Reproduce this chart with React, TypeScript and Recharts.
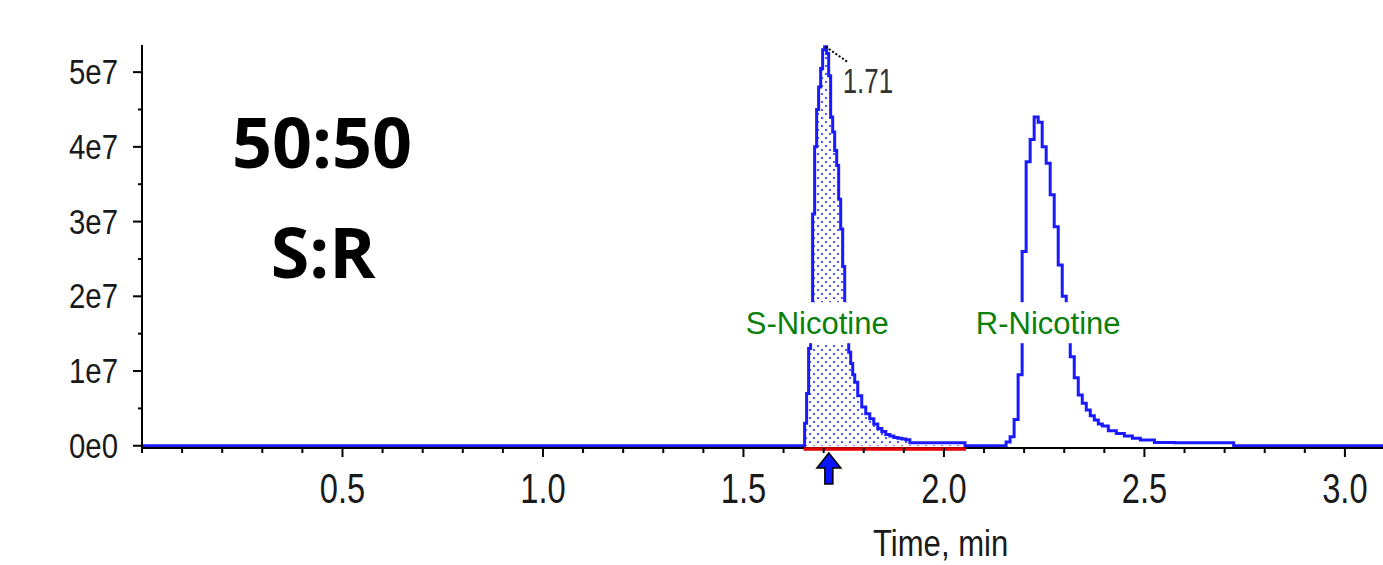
import React from 'react';
import { ComposedChart, Line, Area, XAxis, YAxis, ReferenceLine, ReferenceDot } from 'recharts';

// Retention time (min) and detector signal (x1e7 counts)
const rt = [
  0, 1.645,
  1.65, 1.655, 1.66, 1.665, 1.67, 1.675, 1.68, 1.685, 1.69, 1.695, 1.7, 1.705, 1.71, 1.715, 1.72, 1.725,
  1.73, 1.735, 1.74, 1.745, 1.75, 1.755, 1.76, 1.765, 1.77, 1.775, 1.78, 1.79, 1.8, 1.81, 1.82, 1.83,
  1.84, 1.85, 1.86, 1.87, 1.88, 1.89, 1.9, 1.91, 1.92, 1.95, 2.0, 2.05, 2.055,
  2.15, 2.16, 2.17, 2.18, 2.19, 2.2, 2.21, 2.22, 2.23, 2.24, 2.25, 2.26, 2.27, 2.28, 2.29, 2.3, 2.31,
  2.32, 2.33, 2.34, 2.35, 2.36, 2.37, 2.38, 2.39, 2.4, 2.42, 2.44, 2.46, 2.48, 2.5, 2.55, 2.6, 2.65,
  2.7, 2.72, 2.725, 3.095,
];
const signal = [
  0, 0,
  0, 0.3, 0.7, 1.3, 1.9, 3.1, 4.0, 4.5, 4.8, 5.05, 5.3, 5.34, 5.25, 4.95, 4.4, 4.2,
  3.95, 3.75, 3.3, 2.9, 2.4, 1.9, 1.45, 1.25, 1.1, 0.95, 0.85, 0.67, 0.52, 0.43, 0.36, 0.29,
  0.23, 0.19, 0.15, 0.13, 0.11, 0.1, 0.09, 0.08, 0.04, 0.04, 0.04, 0.04, 0,
  0, 0.05, 0.12, 0.35, 0.95, 2.6, 3.8, 4.1, 4.4, 4.33, 4.0, 3.78, 3.36, 2.93, 2.42, 2.0, 1.48,
  1.19, 0.91, 0.68, 0.57, 0.48, 0.4, 0.345, 0.29, 0.265, 0.2, 0.165, 0.13, 0.1, 0.078, 0.044, 0.04, 0.04,
  0.04, 0.04, 0, 0,
];

// integrated peak (S-Nicotine)
const integrationStart = 1.65;
const integrationEnd = 2.055;
const integrationLevel = -0.045;
const peakApexTime = 1.705;
const peakApexSignal = 5.34;
const peakRTLabel = '1.71';
const markerTime = 1.713;

const peakNames = ['S-Nicotine', 'R-Nicotine'];
const peakLabelTimes = [1.684, 2.26];
const peakLabelSignal = 1.64;

const xTicks = [0, 0.1, 0.2, 0.3, 0.4, 0.5, 0.6, 0.7, 0.8, 0.9, 1.0, 1.1, 1.2, 1.3, 1.4, 1.5, 1.6, 1.7, 1.8, 1.9,
  2.0, 2.1, 2.2, 2.3, 2.4, 2.5, 2.6, 2.7, 2.8, 2.9, 3.0];
const yTicks = [0, 0.5, 1, 1.5, 2, 2.5, 3, 3.5, 4, 4.5, 5];

const xDomain = [0, 3.095];
const yDomain = [-0.03, 5.363];

const data = rt.map((t, i) => ({
  t,
  v: signal[i],
  fill: t >= integrationStart && t <= integrationEnd ? signal[i] : null,
}));

const FONT = '"Liberation Sans", Arial, sans-serif';

const YTick = (props: any) => {
  const { x, y, payload } = props;
  const v = payload.value;
  const major = Math.abs(v - Math.round(v)) < 1e-6;
  return (
    <g>
      <line x1={x - (major ? 9 : 4)} x2={x} y1={y} y2={y} stroke="#000" strokeWidth={2} />
      {major && (
        <text
          transform={`translate(${x - 24},${y + 12}) scale(0.84,1)`}
          textAnchor="end"
          fontSize={35}
          fontFamily={FONT}
          fill="#1a1a1a"
        >
          {v === 0 ? '0e0' : `${v}e7`}
        </text>
      )}
    </g>
  );
};

const XTick = (props: any) => {
  const { x, y, payload } = props;
  const v = payload.value;
  const major = v > 0 && Math.abs(v * 2 - Math.round(v * 2)) < 1e-6;
  return (
    <g>
      <line x1={x} x2={x} y1={y} y2={y + (major ? 9 : 5)} stroke="#000" strokeWidth={2} />
      {major && (
        <text
          transform={`translate(${x},${y + 55}) scale(0.76,1)`}
          textAnchor="middle"
          fontSize={43}
          fontFamily={FONT}
          fill="#1a1a1a"
        >
          {v.toFixed(1)}
        </text>
      )}
    </g>
  );
};

const PeakLabel = (name: string) => (props: any) => {
  const { cx, cy } = props;
  return (
    <g>
      <rect x={cx - 78} y={cy - 21} width={156} height={41} fill="#fff" />
      <text x={cx} y={cy + 11} textAnchor="middle" fontSize={31} fontFamily={FONT} fill="#0a7f0a">
        {name}
      </text>
    </g>
  );
};

const ApexLabel = (props: any) => {
  const { cx, cy } = props;
  return (
    <g>
      <line x1={cx} y1={cy} x2={cx + 23} y2={cy + 16} stroke="#000" strokeWidth={2} strokeDasharray="2 2" />
      <text
        transform={`translate(${cx + 17},${cy + 46}) scale(0.74,1)`}
        fontSize={35}
        fontFamily={FONT}
        fill="#333"
      >
        {peakRTLabel}
      </text>
    </g>
  );
};

const Arrow = (props: any) => {
  const { cx, cy } = props;
  const top = cy + 5;
  const pts = [
    [cx, top],
    [cx + 12, top + 15],
    [cx + 4, top + 15],
    [cx + 4, top + 31],
    [cx - 4, top + 31],
    [cx - 4, top + 15],
    [cx - 12, top + 15],
  ]
    .map((p) => p.join(','))
    .join(' ');
  return <polygon points={pts} fill="#0a14ff" stroke="#000" strokeWidth={1.5} />;
};

export default function App() {
  return (
    <div style={{ position: 'absolute', left: 0, top: 0, width: 1383, height: 565, background: '#fff' }}>
      <svg width={0} height={0} style={{ position: 'absolute' }}>
        <defs>
          <pattern id="dots" width={8} height={8} patternUnits="userSpaceOnUse">
            <rect width={8} height={8} fill="#fff" />
            <circle cx={2} cy={2} r={1.1} fill="#2030ff" />
            <circle cx={6} cy={6} r={1.1} fill="#2030ff" />
          </pattern>
        </defs>
      </svg>
      <ComposedChart
        width={1383}
        height={565}
        data={data}
        margin={{ top: 45, right: 0, bottom: 57, left: 0 }}
      >
        <XAxis
          dataKey="t"
          type="number"
          domain={xDomain}
          allowDataOverflow
          ticks={xTicks}
          interval={0}
          tick={<XTick />}
          tickLine={false}
          tickSize={0}
          tickMargin={0}
          height={60}
          axisLine={{ stroke: '#000', strokeWidth: 2 }}
        />
        <YAxis
          type="number"
          domain={yDomain}
          allowDataOverflow
          ticks={yTicks}
          interval={0}
          tick={<YTick />}
          tickLine={false}
          tickSize={0}
          tickMargin={0}
          width={142}
          axisLine={{ stroke: '#000', strokeWidth: 2 }}
        />
        <Area
          type="step"
          dataKey="fill"
          stroke="none"
          fill="url(#dots)"
          fillOpacity={1}
          baseValue={0}
          isAnimationActive={false}
          connectNulls={false}
        />
        <ReferenceLine
          segment={[{ x: integrationStart, y: integrationLevel }, { x: integrationEnd, y: integrationLevel }]}
          stroke="#e00000"
          strokeWidth={3.5}
          ifOverflow="visible"
          zIndex={650}
        />
        <Line
          type="step"
          dataKey="v"
          stroke="#1a1aff"
          strokeWidth={3}
          dot={false}
          isAnimationActive={false}
        />
        <ReferenceDot x={peakApexTime} y={peakApexSignal} r={0} ifOverflow="visible" shape={ApexLabel} />
        <ReferenceDot x={markerTime} y={yDomain[0]} r={0} ifOverflow="visible" shape={Arrow} />
        {peakNames.map((n, i) => (
          <ReferenceDot
            key={n}
            x={peakLabelTimes[i]}
            y={peakLabelSignal}
            r={0}
            ifOverflow="visible"
            shape={PeakLabel(n)}
          />
        ))}
      </ComposedChart>
      <svg
        width={1383}
        height={565}
        style={{ position: 'absolute', left: 0, top: 0, pointerEvents: 'none' }}
      >
        <text x={322} y={168} textAnchor="middle" fontSize={70} fontWeight={700} fontFamily='"Open Sans", sans-serif' fill="#000">
          50:50
        </text>
        <text x={323} y={278} textAnchor="middle" fontSize={70} fontWeight={700} fontFamily='"Open Sans", sans-serif' fill="#000">
          S:R
        </text>
        <text transform="translate(873,556) scale(0.84,1)" fontSize={37} fontFamily={FONT} fill="#1a1a1a">
          Time, min
        </text>
      </svg>
    </div>
  );
}
